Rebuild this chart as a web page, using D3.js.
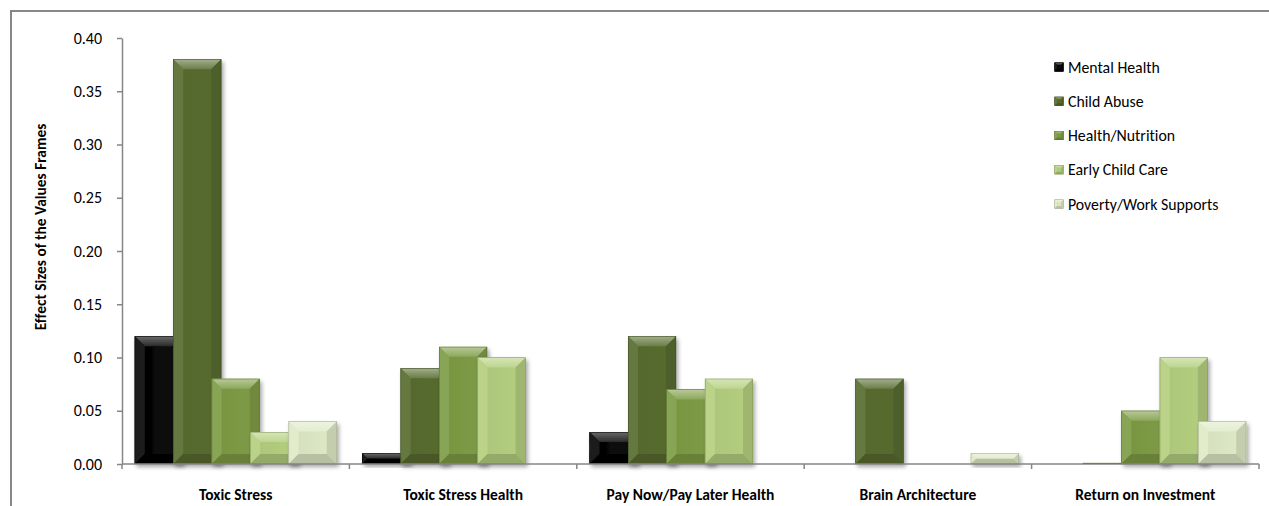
<!DOCTYPE html>
<html><head><meta charset="utf-8">
<script src="https://cdn.jsdelivr.net/npm/d3@7"></script>
<style>body{margin:0;background:#fff;overflow:hidden} text{font-variant-ligatures:none;font-feature-settings:"liga" 0,"clig" 0}</style>
</head><body><svg id="chart" width="1269" height="506"></svg>
<script>
const categories = ["Toxic Stress","Toxic Stress Health","Pay Now/Pay Later Health","Brain Architecture","Return on Investment"];
const seriesNames = ["Mental Health","Child Abuse","Health/Nutrition","Early Child Care","Poverty/Work Supports"];
const mentalHealth    = [0.12, 0.01, 0.03, 0,    0];
const childAbuse      = [0.38, 0.09, 0.12, 0.08, 0.001];
const healthNutrition = [0.08, 0.11, 0.07, 0,    0.05];
const earlyChildCare  = [0.03, 0.10, 0.08, 0,    0.10];
const povertyWork     = [0.04, 0,    0,    0.01, 0.04];
const yTickValues = [0, 0.05, 0.10, 0.15, 0.20, 0.25, 0.30, 0.35, 0.40];
const yTitle = "Effect Sizes of the Values Frames";
const seriesColors = ["#141414","#586c2f","#7e9c45","#b4cf7f","#dfeac7"];

(function(){
const seriesValues = [mentalHealth, childAbuse, healthNutrition, earlyChildCare, povertyWork];
const FONT = "Calibri, Carlito, Lato, 'Open Sans', sans-serif";

const svg = d3.select("#chart");
const defs = svg.append("defs");
const f = defs.append("filter").attr("id","shadow").attr("x","-20%").attr("y","-20%").attr("width","150%").attr("height","150%");
f.append("feGaussianBlur").attr("in","SourceAlpha").attr("stdDeviation",2).attr("result","b");
f.append("feOffset").attr("in","b").attr("dx",2).attr("dy",2.5).attr("result","o");
f.append("feComponentTransfer").attr("in","o").attr("result","s").append("feFuncA").attr("type","linear").attr("slope",0.35);
const fm = f.append("feMerge"); fm.append("feMergeNode").attr("in","s"); fm.append("feMergeNode").attr("in","SourceGraphic");

svg.append("rect").attr("x",11).attr("y",11).attr("width",1290).attr("height",520)
  .attr("fill","none").attr("stroke","#878787").attr("stroke-width",2);

const pLeft = 122, pRight = 1259, pTop = 38, pBottom = 464;
const y = d3.scaleLinear().domain([0,0.40]).range([pBottom, pTop]);
const x0 = d3.scaleBand().domain(categories).range([pLeft, pRight]).paddingInner(0).paddingOuter(0);
const band = x0.bandwidth();
const barW = band / (4.2 + 0.53);
const step = barW * 0.8;
const x1 = d3.scaleLinear().domain([0, seriesNames.length-1]).range([0, 4*step]);
const gapHalf = (band - (4*step + barW)) / 2;

function mix(c, t, a){ const A=d3.rgb(c), B=d3.rgb(t); return d3.rgb(A.r+(B.r-A.r)*a, A.g+(B.g-A.g)*a, A.b+(B.b-A.b)*a).formatHex(); }

seriesColors.forEach((c,i)=>{
  const g = defs.append("linearGradient").attr("id","top"+i).attr("x1",0).attr("y1",0).attr("x2",0).attr("y2",1);
  g.append("stop").attr("offset","0%").attr("stop-color", i===0? "#6a6a6a" : mix(c,"#ffffff",0.45));
  g.append("stop").attr("offset","100%").attr("stop-color", i===0? "#2a2a2a" : mix(c,"#ffffff",0.12));
  const bg = defs.append("linearGradient").attr("id","body"+i).attr("x1",0).attr("y1",0).attr("x2",1).attr("y2",0);
  bg.append("stop").attr("offset","0%").attr("stop-color", i===0? "#000" : mix(c,"#000",0.05));
  bg.append("stop").attr("offset","100%").attr("stop-color", i===0? "#111" : c);
});

function bevelBar(g, x, yt, w, h, si, bMax){
  const c = seriesColors[si];
  const b = Math.min(bMax, h/2, w/2);
  g.append("rect").attr("x",x).attr("y",yt).attr("width",w).attr("height",h).attr("fill","url(#body"+si+")");
  g.append("polygon").attr("points",[[x,yt],[x+w,yt],[x+w-b,yt+b],[x+b,yt+b]].join(" ")).attr("fill","url(#top"+si+")");
  g.append("polygon").attr("points",[[x,yt],[x+b,yt+b],[x+b,yt+h-b],[x,yt+h]].join(" ")).attr("fill", si===0?"#1c1c1c":mix(c,"#ffffff",0.08));
  g.append("polygon").attr("points",[[x+w,yt],[x+w,yt+h],[x+w-b,yt+h-b],[x+w-b,yt+b]].join(" ")).attr("fill", si===0?"#050505":mix(c,"#000000",0.12));
  g.append("polygon").attr("points",[[x,yt+h],[x+w,yt+h],[x+w-b,yt+h-b],[x+b,yt+h-b]].join(" ")).attr("fill", si===0?"#000":mix(c,"#000000",0.18));
  g.append("rect").attr("x",x+0.25).attr("y",yt+0.25).attr("width",w-0.5).attr("height",h-0.5).attr("fill","none").attr("stroke", si===0?"#000":mix(c,"#000",0.3)).attr("stroke-width",0.5);
}

const barsG = svg.append("g");
seriesValues.forEach((vals, si)=>{
  vals.forEach((v, ci)=>{
    if(!(v>0)) return;
    const x = x0(categories[ci]) + gapHalf + x1(si);
    const yt = y(v), h = y(0) - yt;
    bevelBar(barsG.append("g").attr("filter","url(#shadow)"), x, yt, barW, h, si, 10);
  });
});

const yAxis = d3.axisLeft(y).tickValues(yTickValues).tickFormat(d3.format(".2f")).tickSize(5).tickSizeOuter(0).tickPadding(15);
const ya = svg.append("g").attr("transform",`translate(${pLeft},0)`).call(yAxis);
ya.select(".domain").attr("stroke","#868686").attr("stroke-width",1.5);
ya.selectAll(".tick line").attr("stroke","#868686").attr("stroke-width",1.5);
ya.selectAll(".tick text").attr("font-family",FONT).attr("font-size",16).attr("fill","#000");

const xa = svg.append("g");
xa.append("line").attr("x1",pLeft).attr("x2",pRight).attr("y1",y(0)).attr("y2",y(0)).attr("stroke","#868686").attr("stroke-width",1.5);
const bounds = categories.map(c=>x0(c)).concat([pRight]);
xa.selectAll("line.tk").data(bounds).join("line").attr("class","tk")
  .attr("x1",d=>d).attr("x2",d=>d).attr("y1",y(0)).attr("y2",y(0)+5).attr("stroke","#868686").attr("stroke-width",1.5);
xa.selectAll("text").data(categories).join("text")
  .attr("x",d=>x0(d)+band/2).attr("y",500).attr("text-anchor","middle")
  .attr("font-family",FONT).attr("font-weight","bold").attr("font-size",15.5).attr("fill","#000").text(d=>d);

svg.append("text").attr("transform","translate(46,227) rotate(-90)").attr("text-anchor","middle")
  .attr("font-family",FONT).attr("font-weight","bold").attr("font-size",15.4).attr("fill","#000").text(yTitle);

const ly = d3.scalePoint().domain(seriesNames).range([67,204]);
const lg = svg.append("g");
seriesNames.forEach((n,i)=>{
  const yy = ly(n);
  bevelBar(lg, 1054.5, yy-4.5, 9, 9, i, 2.5);
  lg.append("text").attr("x",1068).attr("y",yy+5.5).attr("font-family",FONT).attr("font-size",15.8).attr("fill","#000").text(n);
});
})();
</script></body></html>
